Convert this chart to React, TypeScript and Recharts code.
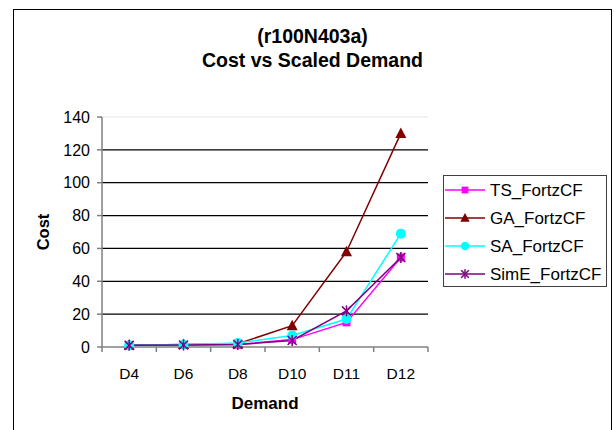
import React from "react";
import {
  LineChart,
  Line,
  XAxis,
  YAxis,
  CartesianGrid,
  ReferenceLine,
  Legend,
} from "recharts";

const demands = ["D4", "D6", "D8", "D10", "D11", "D12"];
const tsCost = [1, 1.2, 1.5, 4.5, 15, 54.5];
const gaCost = [1, 1.5, 2, 13, 58, 130];
const saCost = [1, 1.5, 2.5, 7, 17, 69];
const simeCost = [1, 1.2, 1.5, 4, 22, 54.5];
const yTicks = [0, 20, 40, 60, 80, 100, 120, 140];

const FONT = '"Liberation Sans", Arial, sans-serif';
const W = 614;
const H = 430;
const PLOT_LEFT = 102;
const PLOT_RIGHT = 428;
const PLOT_TOP = 117;
const PLOT_BOTTOM = 347;
const BAND = (PLOT_RIGHT - PLOT_LEFT) / demands.length;

const data = demands.map((d, i) => ({
  demand: d,
  ts: tsCost[i],
  ga: gaCost[i],
  sa: saCost[i],
  sime: simeCost[i],
}));

const COLORS: Record<string, string> = {
  ts: "#ff00ff",
  ga: "#800000",
  sa: "#00ffff",
  sime: "#800080",
};

function Marker({ kind, cx, cy, s = 1 }: { kind: string; cx: number; cy: number; s?: number }) {
  const c = COLORS[kind];
  if (kind === "ts") {
    return <rect x={cx - 4 * s} y={cy - 4 * s} width={8 * s} height={8 * s} fill={c} />;
  }
  if (kind === "ga") {
    return (
      <polygon
        points={`${cx},${cy - 6 * s} ${cx - 5.5 * s},${cy + 4.5 * s} ${cx + 5.5 * s},${cy + 4.5 * s}`}
        fill={c}
      />
    );
  }
  if (kind === "sa") {
    return <circle cx={cx} cy={cy} r={5 * s} fill={c} />;
  }
  const r = 4.5 * s;
  return (
    <g stroke={c} strokeWidth={1.5}>
      <line x1={cx - r} y1={cy - r} x2={cx + r} y2={cy + r} />
      <line x1={cx - r} y1={cy + r} x2={cx + r} y2={cy - r} />
      <line x1={cx} y1={cy - r - 1} x2={cx} y2={cy + r + 1} />
    </g>
  );
}

const dotFor = (kind: string) => (props: any) => {
  const { cx, cy, index } = props;
  if (cx == null || cy == null) return <g key={`${kind}-${index}`} />;
  return (
    <g key={`${kind}-${index}`}>
      <Marker kind={kind} cx={cx} cy={cy} />
    </g>
  );
};

function DemandTick(props: any) {
  const { x, payload, index } = props;
  const axisY = PLOT_BOTTOM;
  const left = x - BAND / 2;
  return (
    <g>
      <line x1={left} y1={axisY} x2={left} y2={axisY + 5} stroke="#808080" strokeWidth={1.5} />
      {index === demands.length - 1 && (
        <line x1={x + BAND / 2} y1={axisY} x2={x + BAND / 2} y2={axisY + 5} stroke="#808080" strokeWidth={1.5} />
      )}
      <text x={x} y={axisY + 21} dy="0.71em" textAnchor="middle" fill="#000" fontSize={15.5} fontFamily={FONT}>
        {payload.value}
      </text>
    </g>
  );
}

const legendNames: Record<string, string> = {
  ts: "TS_FortzCF",
  ga: "GA_FortzCF",
  sa: "SA_FortzCF",
  sime: "SimE_FortzCF",
};

function LegendBox() {
  const keys = ["ts", "ga", "sa", "sime"];
  return (
    <div
      style={{
        width: 164,
        height: 112,
        border: "1.5px solid #404040",
        background: "#fff",
        boxSizing: "border-box",
        position: "relative",
      }}
    >
      <svg width={162} height={110} style={{ position: "absolute", left: 0, top: 0 }}>
        {keys.map((k, i) => {
          const cy = 14 + i * 28;
          return (
            <g key={k}>
              <line x1={1} y1={cy} x2={41} y2={cy} stroke={COLORS[k]} strokeWidth={1.5} />
              <Marker kind={k} cx={21} cy={cy} s={0.85} />
              <text x={46} y={cy} dy="0.36em" fontSize={17} fontFamily={FONT} fill="#000">
                {legendNames[k]}
              </text>
            </g>
          );
        })}
      </svg>
    </div>
  );
}

export default function App() {
  return (
    <div
      style={{
        position: "absolute",
        left: 0,
        top: 0,
        width: W,
        height: H,
        overflow: "hidden",
        background: "#fff",
        fontFamily: FONT,
      }}
    >
      <div
        style={{
          position: "absolute",
          left: 13,
          top: 9,
          width: 599,
          height: 460,
          border: "1.5px solid #000",
          boxSizing: "border-box",
        }}
      />
      <div
        style={{
          position: "absolute",
          left: 13,
          width: 599,
          top: 27,
          textAlign: "center",
          fontWeight: "bold",
          fontSize: 19.5,
          lineHeight: "19px",
        }}
      >
        (r100N403a)
      </div>
      <div
        style={{
          position: "absolute",
          left: 13,
          width: 599,
          top: 51,
          textAlign: "center",
          fontWeight: "bold",
          fontSize: 19.5,
          lineHeight: "19px",
        }}
      >
        Cost vs Scaled Demand
      </div>
      <div
        style={{
          position: "absolute",
          left: PLOT_LEFT,
          width: PLOT_RIGHT - PLOT_LEFT,
          top: 395,
          textAlign: "center",
          fontWeight: "bold",
          fontSize: 17,
          lineHeight: "17px",
        }}
      >
        Demand
      </div>
      <div
        style={{
          position: "absolute",
          left: 43 - 40,
          top: 232 - 8,
          width: 80,
          textAlign: "center",
          fontWeight: "bold",
          fontSize: 16.5,
          lineHeight: "16px",
          transform: "rotate(-90deg)",
        }}
      >
        Cost
      </div>
      <div style={{ position: "absolute", left: 0, top: 0 }}>
        <LineChart
          width={W}
          height={H}
          data={data}
          margin={{ top: PLOT_TOP, right: W - PLOT_RIGHT, bottom: H - PLOT_BOTTOM - 30, left: PLOT_LEFT - 60 }}
        >
          <CartesianGrid vertical={false} stroke="#000" strokeWidth={1.2} horizontalValues={[20, 40, 60, 80, 100, 120]} />
          <ReferenceLine y={140} stroke="#e6e6e6" strokeWidth={1.2} />
          <XAxis
            dataKey="demand"
            scale="band"
            height={30}
            tickLine={false}
            axisLine={{ stroke: "#808080", strokeWidth: 1.5 }}
            tick={<DemandTick />}
            interval={0}
          />
          <YAxis
            width={60}
            domain={[0, 140]}
            ticks={yTicks}
            interval={0}
            tickSize={5}
            tickMargin={7}
            tickLine={{ stroke: "#808080", strokeWidth: 1.5 }}
            axisLine={{ stroke: "#808080", strokeWidth: 1.5 }}
            tick={{ fill: "#000", fontSize: 16, fontFamily: FONT }}
          />
          <Legend
            layout="horizontal"
            align="center"
            verticalAlign="middle"
            content={() => <LegendBox />}
            wrapperStyle={{ position: "absolute", left: 443, top: 175, width: 164, height: 112 }}
          />
          <Line dataKey="ts" name="TS_FortzCF" stroke={COLORS.ts} strokeWidth={1.5} dot={dotFor("ts")} activeDot={false} isAnimationActive={false} />
          <Line dataKey="ga" name="GA_FortzCF" stroke={COLORS.ga} strokeWidth={1.5} dot={dotFor("ga")} activeDot={false} isAnimationActive={false} />
          <Line dataKey="sa" name="SA_FortzCF" stroke={COLORS.sa} strokeWidth={1.5} dot={dotFor("sa")} activeDot={false} isAnimationActive={false} />
          <Line dataKey="sime" name="SimE_FortzCF" stroke={COLORS.sime} strokeWidth={1.5} dot={dotFor("sime")} activeDot={false} isAnimationActive={false} />
        </LineChart>
      </div>
    </div>
  );
}
